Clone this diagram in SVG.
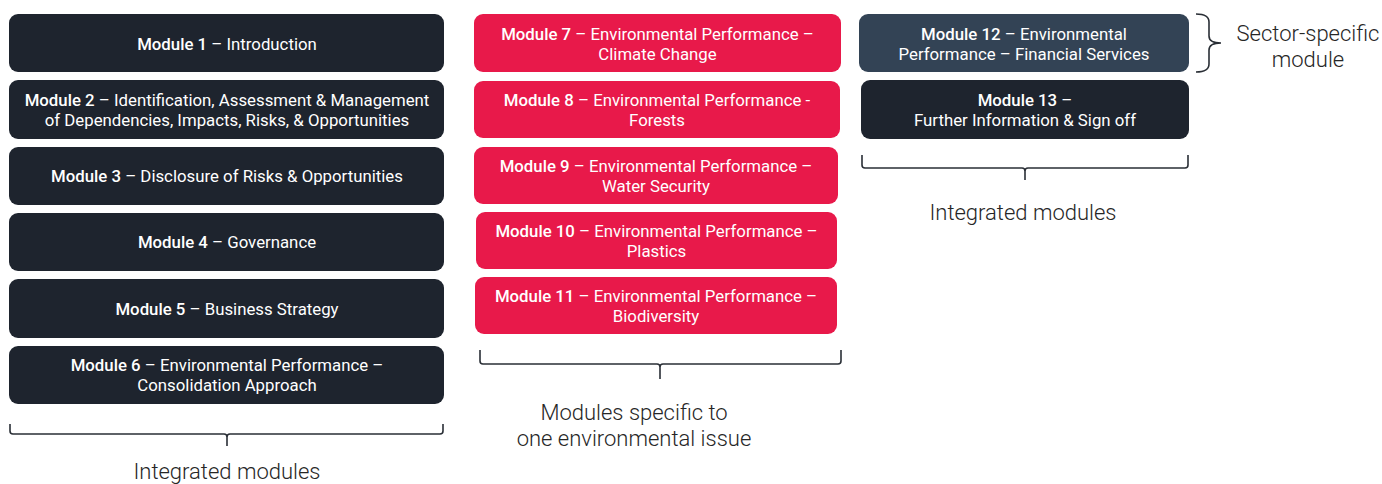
<svg xmlns="http://www.w3.org/2000/svg" width="1382" height="484" viewBox="0 0 1382 484">
<style>
.dark{fill:#1e242e}
.red{fill:#e8194a}
.slate{fill:#334355}
.t{font-family:Roboto,"Liberation Sans",sans-serif;font-size:16.8px;fill:#ffffff;text-anchor:middle}
.b{font-weight:500}
.lbl{font-family:Roboto,"Liberation Sans",sans-serif;font-weight:300;font-size:22px;fill:#262626;text-anchor:middle}
.br{fill:none;stroke:#2a2f36;stroke-width:1.6}
</style>
<rect width="1382" height="484" fill="#ffffff"/>
<g id="m1"><rect class="dark" x="9" y="14" width="435" height="58" rx="9"/><text class="t" x="227" y="49.5"><tspan class="b">Module 1</tspan> – Introduction</text></g>
<g id="m2"><rect class="dark" x="9" y="80" width="435" height="59" rx="9"/><text class="t" x="227" y="105.5"><tspan class="b">Module 2</tspan> – Identification, Assessment &amp; Management</text><text class="t" x="227" y="125.5">of Dependencies, Impacts, Risks, &amp; Opportunities</text></g>
<g id="m3"><rect class="dark" x="9" y="147" width="435" height="58" rx="9"/><text class="t" x="227" y="182"><tspan class="b">Module 3</tspan> – Disclosure of Risks &amp; Opportunities</text></g>
<g id="m4"><rect class="dark" x="9" y="213" width="435" height="58" rx="9"/><text class="t" x="227" y="248"><tspan class="b">Module 4</tspan> – Governance</text></g>
<g id="m5"><rect class="dark" x="9" y="279" width="435" height="59" rx="9"/><text class="t" x="227" y="314.5"><tspan class="b">Module 5</tspan> – Business Strategy</text></g>
<g id="m6"><rect class="dark" x="9" y="346" width="435" height="58" rx="9"/><text class="t" x="227" y="371"><tspan class="b">Module 6</tspan> – Environmental Performance –</text><text class="t" x="227" y="391">Consolidation Approach</text></g>

<g id="m7"><rect class="red" x="474" y="14" width="367" height="58" rx="9"/><text class="t" x="657.5" y="39.5"><tspan class="b">Module 7</tspan> – Environmental Performance –</text><text class="t" x="657.5" y="59.5">Climate Change</text></g>
<g id="m8"><rect class="red" x="474" y="81" width="366" height="57" rx="9"/><text class="t" x="657" y="105.5"><tspan class="b">Module 8</tspan> – Environmental Performance -</text><text class="t" x="657" y="125.5">Forests</text></g>
<g id="m9"><rect class="red" x="474" y="147" width="364" height="57" rx="9"/><text class="t" x="656" y="171.5"><tspan class="b">Module 9</tspan> – Environmental Performance –</text><text class="t" x="656" y="191.5">Water Security</text></g>
<g id="m10"><rect class="red" x="476" y="212" width="361" height="57" rx="9"/><text class="t" x="656.5" y="236.5"><tspan class="b">Module 10</tspan> – Environmental Performance –</text><text class="t" x="656.5" y="256.5">Plastics</text></g>
<g id="m11"><rect class="red" x="475" y="277" width="362" height="57" rx="9"/><text class="t" x="656" y="301.5"><tspan class="b">Module 11</tspan> – Environmental Performance –</text><text class="t" x="656" y="321.5">Biodiversity</text></g>

<g id="m12"><rect class="slate" x="859" y="14" width="330" height="58" rx="9"/><text class="t" x="1024" y="39.5"><tspan class="b">Module 12</tspan> – Environmental</text><text class="t" x="1024" y="59.5">Performance – Financial Services</text></g>
<g id="m13"><rect class="dark" x="861" y="80" width="328" height="59" rx="9"/><text class="t" x="1025" y="105.5"><tspan class="b">Module 13</tspan> –</text><text class="t" x="1025" y="125.5">Further Information &amp; Sign off</text></g>

<g id="connectors">
<path class="br" d="M10,424 V431 Q10,434 13,434 H224 Q227,434 227,437 V446 M227,437 Q227,434 230,434 H440 Q443,434 443,431 V424"/>
<path class="br" d="M480,350 V361 Q480,364 483,364 H657 Q660,364 660,367 V379 M660,367 Q660,364 663,364 H838 Q841,364 841,361 V350"/>
<path class="br" d="M862,155 V165 Q862,168 865,168 H1022 Q1025,168 1025,171 V180 M1025,171 Q1025,168 1028,168 H1185 Q1188,168 1188,165 V155"/>
<path class="br" d="M1196,14 Q1209,14 1209,22 V36 Q1209,43 1221,43 M1221,43 Q1209,43 1209,50 V64 Q1209,72 1196,72"/>
</g>

<g id="labels">
<text class="lbl" x="227" y="478.5">Integrated modules</text>
<text class="lbl" x="634" y="420">Modules specific to</text>
<text class="lbl" x="634" y="446">one environmental issue</text>
<text class="lbl" x="1023" y="220">Integrated modules</text>
<text class="lbl" x="1308" y="41">Sector-specific</text>
<text class="lbl" x="1308" y="67">module</text>
</g>
</svg>
